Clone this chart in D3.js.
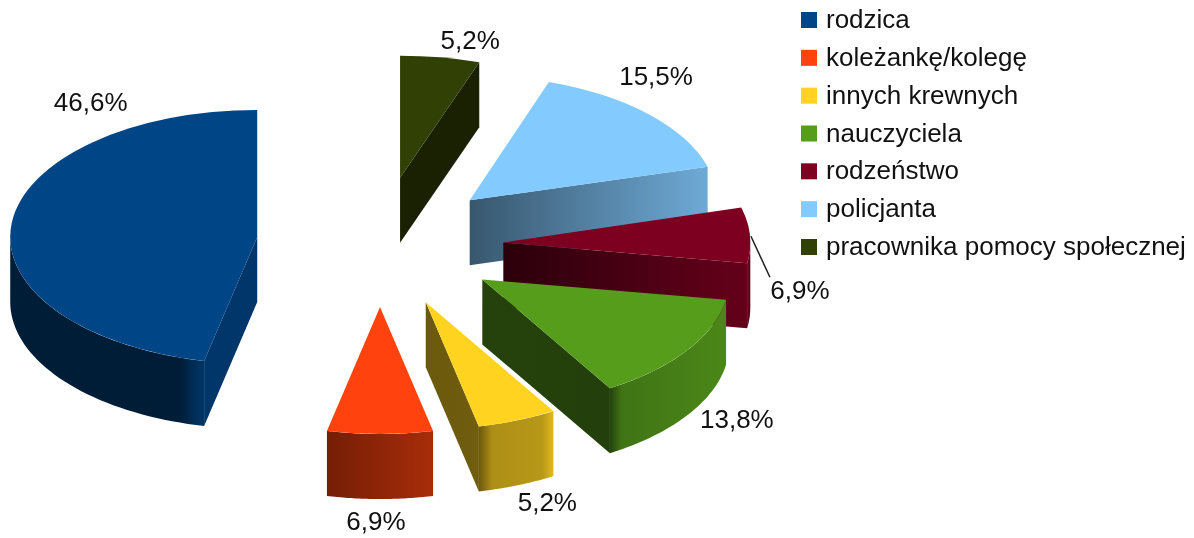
<!DOCTYPE html>
<html>
<head>
<meta charset="utf-8">
<script src="https://cdnjs.cloudflare.com/ajax/libs/d3/7.8.5/d3.min.js"></script>
<style>
  html, body { margin: 0; padding: 0; background: #fff; }
  svg { filter: blur(0.5px); }
  text { font-family: "Liberation Sans", Arial, sans-serif; fill: #111; }
</style>
</head>
<body>
<script>
// values, counter clockwise from 12 o'clock
var categories = ["rodzica", "koleżankę/kolegę", "innych krewnych", "nauczyciela", "rodzeństwo", "policjanta", "pracownika pomocy społecznej"];
var values = [46.6, 6.9, 5.2, 13.8, 6.9, 15.5, 5.2];
var valueLabels = ["46,6%", "6,9%", "5,2%", "13,8%", "6,9%", "15,5%", "5,2%"];
var colors = ["#004586", "#ff420e", "#ffd320", "#579d1c", "#7e0021", "#83caff", "#314004"];

// wall shading: [offset, brightness] left to right
var outerShades = [
  [[0, .42], [.88, .42], [.97, .72], [1, .75]],
  [[0, .46], [1, .66]],
  [[0, .42], [.18, .68], [.85, .72], [1, .88]],
  [[0, .42], [.1, .74], [1, .86]],
  [[0, .76], [1, .76]],
  [[0, .8], [1, .8]],
  [[0, .55], [1, .55]]
];
var edgeShades = [
  [[0, .78], [1, .78]],
  [[0, .5], [1, .5]],
  [[0, .42], [1, .44]],
  [[0, .42], [1, .4]],
  [[0, .34], [1, .8]],
  [[0, .43], [1, .84]],
  [[0, .52], [1, .52]]
];
// the original has some perspective, far slices come out flatter
var sliceRy = [127, 127, 127, 127, 130, 125, 122];
var sliceDy = [1, -1, -1, 0, 3, 2, -1];
// label offset from the point on the rim, middle of slice
var labelNudge = [[79, -121], [-4, 87], [30, 82], [50, 68], [50, 55], [7, -38], [30, -18]];

var w = 1194, h = 538;
var cx = 380, cy = 243;     // pie centre before the slices are pulled out
var rx = 247, ry = 130;
var depth = 65;
var explode = 0.5;

var svg = d3.select("body").append("svg").attr("width", w).attr("height", h);
var defs = svg.append("defs");

var pie = d3.pie().sort(null).startAngle(0).endAngle(-2 * Math.PI);
var arcs = pie(values);
var arcGen = d3.arc().innerRadius(0).outerRadius(rx);
var line = d3.line();

function shade(c, f) {
  var o = d3.rgb(c);
  return d3.rgb(o.r * f, o.g * f, o.b * f).formatHex();
}

function addGradient(id, color, stops) {
  var g = defs.append("linearGradient").attr("id", id)
    .attr("x1", 0).attr("x2", 1).attr("y1", 0).attr("y2", 0);
  g.selectAll("stop").data(stops).enter().append("stop")
    .attr("offset", function(d) { return d[0]; })
    .attr("stop-color", function(d) { return shade(color, d[1]); });
  return "url(#" + id + ")";
}

var slices = arcs.map(function(d, i) {
  var mid = (d.startAngle + d.endAngle) / 2;
  return {
    i: i, start: d.startAngle, end: d.endAngle, mid: mid,
    ry: sliceRy[i],
    x: cx + explode * rx * Math.sin(mid),
    y: cy - explode * ry * Math.cos(mid) + sliceDy[i]
  };
});

function rim(s, a) {
  return [s.x + rx * Math.sin(a), s.y - s.ry * Math.cos(a)];
}

// back slices first
var order = slices.slice().sort(function(a, b) { return a.y - b.y; });

var g = svg.selectAll("g.slice").data(order).enter().append("g").attr("class", "slice");

g.each(function(s) {
  var sel = d3.select(this);

  // straight walls that face us: the normal has to point down the screen
  [[s.start, 1], [s.end, -1]].forEach(function(e) {
    var ny = e[1] * Math.sin(e[0]);
    if (ny < 0.02) return;
    var p = rim(s, e[0]);
    sel.append("path")
      .attr("d", line([[s.x, s.y], p, [p[0], p[1] + depth], [s.x, s.y + depth]]) + "Z")
      .attr("fill", addGradient("edge" + s.i, colors[s.i], edgeShades[s.i]));
  });

  // round wall, only the part below the ellipse's widest line
  var a0 = Math.max(s.end, -1.5 * Math.PI), a1 = Math.min(s.start, -0.5 * Math.PI);
  if (a1 > a0) {
    var top = d3.range(0, 41).map(function(k) { return rim(s, a0 + (a1 - a0) * k / 40); });
    var bottom = top.slice().reverse().map(function(p) { return [p[0], p[1] + depth]; });
    sel.append("path")
      .attr("d", line(top.concat(bottom)) + "Z")
      .attr("fill", addGradient("outer" + s.i, colors[s.i], outerShades[s.i]));
  }

  // top face
  sel.append("path")
    .attr("transform", "translate(" + s.x + "," + s.y + ") scale(1," + (s.ry / rx) + ")")
    .attr("d", arcGen({ startAngle: s.start, endAngle: s.end }))
    .attr("fill", colors[s.i]);
});

// leader for the rodzeństwo label
var lead = rim(slices[4], slices[4].mid);
svg.append("line")
  .attr("x1", lead[0] + 1).attr("y1", lead[1] + 1)
  .attr("x2", lead[0] + 20).attr("y2", lead[1] + 42)
  .attr("stroke", "#222").attr("stroke-width", 1.5);

svg.selectAll("text.val").data(slices).enter().append("text")
  .attr("class", "val")
  .attr("x", function(s) { return rim(s, s.mid)[0] + labelNudge[s.i][0]; })
  .attr("y", function(s) { return rim(s, s.mid)[1] + labelNudge[s.i][1]; })
  .attr("dy", "0.35em")
  .attr("text-anchor", "middle")
  .attr("font-size", 26)
  .text(function(s) { return valueLabels[s.i]; });

// legend
var legendY = d3.scaleLinear().domain([0, categories.length - 1]).range([20, 247]);
var legend = svg.selectAll("g.legend").data(categories).enter().append("g")
  .attr("class", "legend")
  .attr("transform", function(d, i) { return "translate(801," + legendY(i) + ")"; });
legend.append("rect")
  .attr("x", 0).attr("y", -8).attr("width", 16).attr("height", 16)
  .attr("fill", function(d, i) { return colors[i]; });
legend.append("text")
  .attr("x", 25).attr("y", -1).attr("dy", "0.35em")
  .attr("font-size", 26)
  .text(function(d) { return d; });
</script>
</body>
</html>
